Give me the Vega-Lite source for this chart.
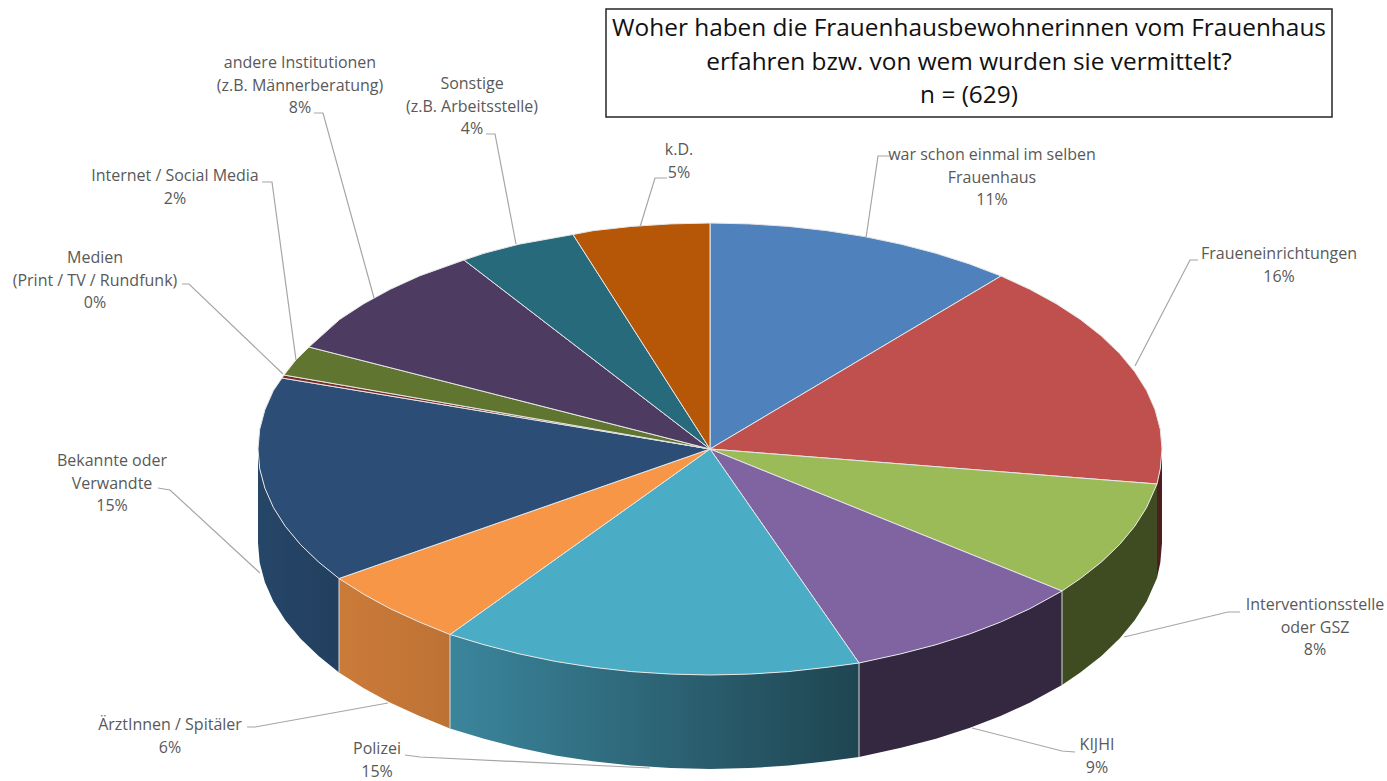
{"$schema":"https://vega.github.io/schema/vega-lite/v6.json","width":1387,"height":781,"padding":0,"autosize":"none","background":"white","config":{"view":{"stroke":null}},
"datasets":{
"top":[
{"slice":"A","i":0,"x":710,"y":449},{"slice":"A","i":1,"x":710,"y":223},{"slice":"A","i":2,"x":749.4,"y":223.9},{"slice":"A","i":3,"x":788.5,"y":226.4},{"slice":"A","i":4,"x":827,"y":230.7},{"slice":"A","i":5,"x":864.6,"y":236.6},{"slice":"A","i":6,"x":901,"y":244.2},{"slice":"A","i":7,"x":936,"y":253.3},{"slice":"A","i":8,"x":969.3,"y":263.9},{"slice":"A","i":9,"x":1001,"y":276},{"slice":"A","i":10,"x":710,"y":449},
{"slice":"B","i":0,"x":710,"y":449},{"slice":"B","i":1,"x":1001,"y":276},{"slice":"B","i":2,"x":1029.6,"y":289.2},{"slice":"B","i":3,"x":1056.2,"y":303.7},{"slice":"B","i":4,"x":1080.3,"y":319.4},{"slice":"B","i":5,"x":1101.4,"y":336},{"slice":"B","i":6,"x":1119.6,"y":353.5},{"slice":"B","i":7,"x":1134.7,"y":371.7},{"slice":"B","i":8,"x":1146.6,"y":390.5},{"slice":"B","i":9,"x":1155.1,"y":409.8},{"slice":"B","i":10,"x":1160.3,"y":429.3},{"slice":"B","i":11,"x":1162,"y":449},{"slice":"B","i":12,"x":1160.3,"y":468.7},{"slice":"B","i":13,"x":1157,"y":484},{"slice":"B","i":14,"x":710,"y":449},
{"slice":"C","i":0,"x":710,"y":449},{"slice":"C","i":1,"x":1157,"y":484},{"slice":"C","i":2,"x":1146.6,"y":507.5},{"slice":"C","i":3,"x":1134.7,"y":526.3},{"slice":"C","i":4,"x":1119.6,"y":544.5},{"slice":"C","i":5,"x":1101.4,"y":562},{"slice":"C","i":6,"x":1080.3,"y":578.6},{"slice":"C","i":7,"x":1062,"y":591},{"slice":"C","i":8,"x":710,"y":449},
{"slice":"D","i":0,"x":710,"y":449},{"slice":"D","i":1,"x":1062,"y":591},{"slice":"D","i":2,"x":1029.6,"y":608.8},{"slice":"D","i":3,"x":1000.5,"y":622.1},{"slice":"D","i":4,"x":969.3,"y":634.1},{"slice":"D","i":5,"x":936,"y":644.7},{"slice":"D","i":6,"x":901,"y":653.8},{"slice":"D","i":7,"x":859,"y":663},{"slice":"D","i":8,"x":710,"y":449},
{"slice":"E","i":0,"x":710,"y":449},{"slice":"E","i":1,"x":859,"y":663},{"slice":"E","i":2,"x":827,"y":667.3},{"slice":"E","i":3,"x":788.5,"y":671.6},{"slice":"E","i":4,"x":749.4,"y":674.1},{"slice":"E","i":5,"x":710,"y":675},{"slice":"E","i":6,"x":670.6,"y":674.1},{"slice":"E","i":7,"x":631.5,"y":671.6},{"slice":"E","i":8,"x":593,"y":667.3},{"slice":"E","i":9,"x":555.4,"y":661.4},{"slice":"E","i":10,"x":519,"y":653.8},{"slice":"E","i":11,"x":484,"y":644.7},{"slice":"E","i":12,"x":450,"y":634.5},{"slice":"E","i":13,"x":710,"y":449},
{"slice":"F","i":0,"x":710,"y":449},{"slice":"F","i":1,"x":450,"y":634.5},{"slice":"F","i":2,"x":419.5,"y":622.1},{"slice":"F","i":3,"x":390.4,"y":608.8},{"slice":"F","i":4,"x":363.8,"y":594.3},{"slice":"F","i":5,"x":339,"y":578.5},{"slice":"F","i":6,"x":710,"y":449},
{"slice":"G","i":0,"x":710,"y":449},{"slice":"G","i":1,"x":339,"y":578.5},{"slice":"G","i":2,"x":318.6,"y":562},{"slice":"G","i":3,"x":300.4,"y":544.5},{"slice":"G","i":4,"x":285.3,"y":526.3},{"slice":"G","i":5,"x":273.4,"y":507.5},{"slice":"G","i":6,"x":264.9,"y":488.2},{"slice":"G","i":7,"x":259.7,"y":468.7},{"slice":"G","i":8,"x":258,"y":449},{"slice":"G","i":9,"x":259.7,"y":429.3},{"slice":"G","i":10,"x":264.9,"y":409.8},{"slice":"G","i":11,"x":273.4,"y":390.5},{"slice":"G","i":12,"x":282,"y":378},{"slice":"G","i":13,"x":710,"y":449},
{"slice":"H","i":0,"x":710,"y":449},{"slice":"H","i":1,"x":282,"y":378},{"slice":"H","i":2,"x":284,"y":375},{"slice":"H","i":3,"x":710,"y":449},
{"slice":"I","i":0,"x":710,"y":449},{"slice":"I","i":1,"x":284,"y":375},{"slice":"I","i":2,"x":295,"y":361},{"slice":"I","i":3,"x":309,"y":347},{"slice":"I","i":4,"x":710,"y":449},
{"slice":"J","i":0,"x":710,"y":449},{"slice":"J","i":1,"x":309,"y":347},{"slice":"J","i":2,"x":339.7,"y":319.4},{"slice":"J","i":3,"x":363.8,"y":303.7},{"slice":"J","i":4,"x":390.4,"y":289.2},{"slice":"J","i":5,"x":419.5,"y":275.9},{"slice":"J","i":6,"x":464,"y":260},{"slice":"J","i":7,"x":710,"y":449},
{"slice":"K","i":0,"x":710,"y":449},{"slice":"K","i":1,"x":464,"y":260},{"slice":"K","i":2,"x":484,"y":253.3},{"slice":"K","i":3,"x":519,"y":244.2},{"slice":"K","i":4,"x":573,"y":234.5},{"slice":"K","i":5,"x":710,"y":449},
{"slice":"L","i":0,"x":710,"y":449},{"slice":"L","i":1,"x":573,"y":234.5},{"slice":"L","i":2,"x":593,"y":230.7},{"slice":"L","i":3,"x":631.5,"y":226.4},{"slice":"L","i":4,"x":670.6,"y":223.9},{"slice":"L","i":5,"x":710,"y":223},{"slice":"L","i":6,"x":710,"y":449}
],
"side":[
{"slice":"B","x":1162,"y":449,"y2":543},{"slice":"B","x":1160.3,"y":468.7,"y2":562.7},{"slice":"B","x":1157,"y":484,"y2":578},
{"slice":"C","x":1157,"y":484,"y2":578},{"slice":"C","x":1146.6,"y":507.5,"y2":601.5},{"slice":"C","x":1134.7,"y":526.3,"y2":620.3},{"slice":"C","x":1119.6,"y":544.5,"y2":638.5},{"slice":"C","x":1101.4,"y":562,"y2":656},{"slice":"C","x":1080.3,"y":578.6,"y2":672.6},{"slice":"C","x":1062,"y":591,"y2":685},
{"slice":"D","x":1062,"y":591,"y2":685},{"slice":"D","x":1029.6,"y":608.8,"y2":702.8},{"slice":"D","x":1000.5,"y":622.1,"y2":716.1},{"slice":"D","x":969.3,"y":634.1,"y2":728.1},{"slice":"D","x":936,"y":644.7,"y2":738.7},{"slice":"D","x":901,"y":653.8,"y2":747.8},{"slice":"D","x":859,"y":663,"y2":757},
{"slice":"E","x":859,"y":663,"y2":757},{"slice":"E","x":827,"y":667.3,"y2":761.3},{"slice":"E","x":788.5,"y":671.6,"y2":765.6},{"slice":"E","x":749.4,"y":674.1,"y2":768.1},{"slice":"E","x":710,"y":675,"y2":769},{"slice":"E","x":670.6,"y":674.1,"y2":768.1},{"slice":"E","x":631.5,"y":671.6,"y2":765.6},{"slice":"E","x":593,"y":667.3,"y2":761.3},{"slice":"E","x":555.4,"y":661.4,"y2":755.4},{"slice":"E","x":519,"y":653.8,"y2":747.8},{"slice":"E","x":484,"y":644.7,"y2":738.7},{"slice":"E","x":450,"y":634.5,"y2":728.5},
{"slice":"F","x":450,"y":634.5,"y2":728.5},{"slice":"F","x":419.5,"y":622.1,"y2":716.1},{"slice":"F","x":390.4,"y":608.8,"y2":702.8},{"slice":"F","x":363.8,"y":594.3,"y2":688.3},{"slice":"F","x":339,"y":578.5,"y2":672.5},
{"slice":"G","x":339,"y":578.5,"y2":672.5},{"slice":"G","x":318.6,"y":562,"y2":656},{"slice":"G","x":300.4,"y":544.5,"y2":638.5},{"slice":"G","x":285.3,"y":526.3,"y2":620.3},{"slice":"G","x":273.4,"y":507.5,"y2":601.5},{"slice":"G","x":264.9,"y":488.2,"y2":582.2},{"slice":"G","x":259.7,"y":468.7,"y2":562.7},{"slice":"G","x":258,"y":449,"y2":543}
],
"edges":[{"x":1062,"y":591,"y2":685},{"x":859,"y":663,"y2":757},{"x":450,"y":634.5,"y2":728.5},{"x":339,"y":578.5,"y2":672.5}],
"leaders":[
{"slice":"A","i":0,"x":890,"y":156},{"slice":"A","i":1,"x":878,"y":156},{"slice":"A","i":2,"x":866,"y":238},
{"slice":"B","i":0,"x":1198,"y":260},{"slice":"B","i":1,"x":1190,"y":260},{"slice":"B","i":2,"x":1135,"y":366},
{"slice":"C","i":0,"x":1240,"y":612},{"slice":"C","i":1,"x":1228,"y":612},{"slice":"C","i":2,"x":1124,"y":637},
{"slice":"D","i":0,"x":1075,"y":752},{"slice":"D","i":1,"x":1062,"y":751},{"slice":"D","i":2,"x":972,"y":728},
{"slice":"E","i":0,"x":405,"y":755},{"slice":"E","i":1,"x":420,"y":757},{"slice":"E","i":2,"x":650,"y":768},
{"slice":"F","i":0,"x":247,"y":727},{"slice":"F","i":1,"x":255,"y":727},{"slice":"F","i":2,"x":388,"y":703},
{"slice":"G","i":0,"x":158,"y":488},{"slice":"G","i":1,"x":170,"y":490},{"slice":"G","i":2,"x":260,"y":573},
{"slice":"H","i":0,"x":182,"y":284},{"slice":"H","i":1,"x":189,"y":284},{"slice":"H","i":2,"x":283,"y":374},
{"slice":"I","i":0,"x":262,"y":182},{"slice":"I","i":1,"x":272,"y":182},{"slice":"I","i":2,"x":296,"y":360},
{"slice":"J","i":0,"x":314,"y":113},{"slice":"J","i":1,"x":323,"y":113},{"slice":"J","i":2,"x":374,"y":298},
{"slice":"K","i":0,"x":486,"y":134},{"slice":"K","i":1,"x":495,"y":134},{"slice":"K","i":2,"x":516,"y":244},
{"slice":"L","i":0,"x":667,"y":178},{"slice":"L","i":1,"x":655,"y":178},{"slice":"L","i":2,"x":640,"y":227}
],
"labels":[
{"slice":"A","share":11,"label":"war schon einmal im selben\nFrauenhaus\n11%","x":992,"y":147},
{"slice":"B","share":16,"label":"Fraueneinrichtungen\n16%","x":1279,"y":246},
{"slice":"C","share":8,"label":"Interventionsstelle\noder GSZ\n8%","x":1315,"y":597},
{"slice":"D","share":9,"label":"KIJHI\n9%","x":1097,"y":737},
{"slice":"E","share":15,"label":"Polizei\n15%","x":377,"y":741},
{"slice":"F","share":6,"label":"ÄrztInnen / Spitäler\n6%","x":170,"y":717},
{"slice":"G","share":15,"label":"Bekannte oder\nVerwandte\n15%","x":112,"y":453},
{"slice":"H","share":0,"label":"Medien\n(Print / TV / Rundfunk)\n0%","x":95,"y":250},
{"slice":"I","share":2,"label":"Internet / Social Media\n2%","x":175,"y":168},
{"slice":"J","share":8,"label":"andere Institutionen\n(z.B. Männerberatung)\n8%","x":300,"y":55},
{"slice":"K","share":4,"label":"Sonstige\n(z.B. Arbeitsstelle)\n4%","x":472,"y":76},
{"slice":"L","share":5,"label":"k.D.\n5%","x":679,"y":142}
]
},
"encoding":{"x":{"field":"x","type":"quantitative","axis":null,"scale":{"domain":[0,1387],"range":[0,1387],"nice":false,"zero":false}},"y":{"field":"y","type":"quantitative","axis":null,"scale":{"domain":[0,781],"range":[0,781],"nice":false,"zero":false}}},
"layer":[
{"data":{"name":"side"},"transform":[{"filter":"datum.slice=='B'"}],"mark":{"type":"area","fill":"#4c1f1e"},"encoding":{"y2":{"field":"y2"}}},
{"data":{"name":"side"},"transform":[{"filter":"datum.slice=='C'"}],"mark":{"type":"area","fill":"#3f4b21"},"encoding":{"y2":{"field":"y2"}}},
{"data":{"name":"side"},"transform":[{"filter":"datum.slice=='D'"}],"mark":{"type":"area","fill":"#332840"},"encoding":{"y2":{"field":"y2"}}},
{"data":{"name":"side"},"transform":[{"filter":"datum.slice=='E'"}],"mark":{"type":"area","fill":{"gradient":"linear","x1":0,"y1":0,"x2":1,"y2":0,"stops":[{"offset":0,"color":"#3b859c"},{"offset":1,"color":"#1f4551"}]}},"encoding":{"y2":{"field":"y2"}}},
{"data":{"name":"side"},"transform":[{"filter":"datum.slice=='F'"}],"mark":{"type":"area","fill":{"gradient":"linear","x1":0,"y1":0,"x2":1,"y2":0,"stops":[{"offset":0,"color":"#cb7b39"},{"offset":1,"color":"#bd7235"}]}},"encoding":{"y2":{"field":"y2"}}},
{"data":{"name":"side"},"transform":[{"filter":"datum.slice=='G'"}],"mark":{"type":"area","fill":{"gradient":"linear","x1":0,"y1":0,"x2":1,"y2":0,"stops":[{"offset":0,"color":"#264668"},{"offset":1,"color":"#223f5f"}]}},"encoding":{"y2":{"field":"y2"}}},
{"data":{"name":"edges"},"mark":{"type":"rule","stroke":"#d9d9d9","strokeWidth":1},"encoding":{"y2":{"field":"y2"}}},
{"data":{"name":"top"},"mark":{"type":"line","stroke":"#e6e6e6","strokeWidth":1,"strokeJoin":"round"},"encoding":{"fill":{"field":"slice","type":"nominal","legend":null,"scale":{"domain":["A","B","C","D","E","F","G","H","I","J","K","L"],"range":["#4f81bd","#c0504d","#9bbb59","#8064a2","#4bacc6","#f79646","#2c4d75","#772c2a","#5f7530","#4d3b62","#276a7c","#b65708"]}},"order":{"field":"i"}}},
{"data":{"name":"leaders"},"mark":{"type":"line","stroke":"#a6a6a6","strokeWidth":1.2},"encoding":{"detail":{"field":"slice"},"order":{"field":"i"}}},
{"data":{"name":"labels"},"mark":{"type":"text","font":"Open Sans","fontSize":16,"fill":"#595959","align":"center","baseline":"top","lineBreak":"\n","lineHeight":22.6},"encoding":{"text":{"field":"label"}}},
{"data":{"values":[{"x":606,"x2":1332,"y":9,"y2":117}]},"mark":{"type":"rect","fill":"white","stroke":"#262626","strokeWidth":1.5},"encoding":{"x2":{"field":"x2"},"y2":{"field":"y2"}}},
{"data":{"values":[{"x":969,"y":17,"t":"Woher haben die Frauenhausbewohnerinnen vom Frauenhaus\nerfahren bzw. von wem wurden sie vermittelt?\nn = (629)"}]},"mark":{"type":"text","font":"Open Sans","fontSize":24.4,"fill":"#111111","align":"center","baseline":"top","lineBreak":"\n","lineHeight":33.5},"encoding":{"text":{"field":"t"}}}
]}
